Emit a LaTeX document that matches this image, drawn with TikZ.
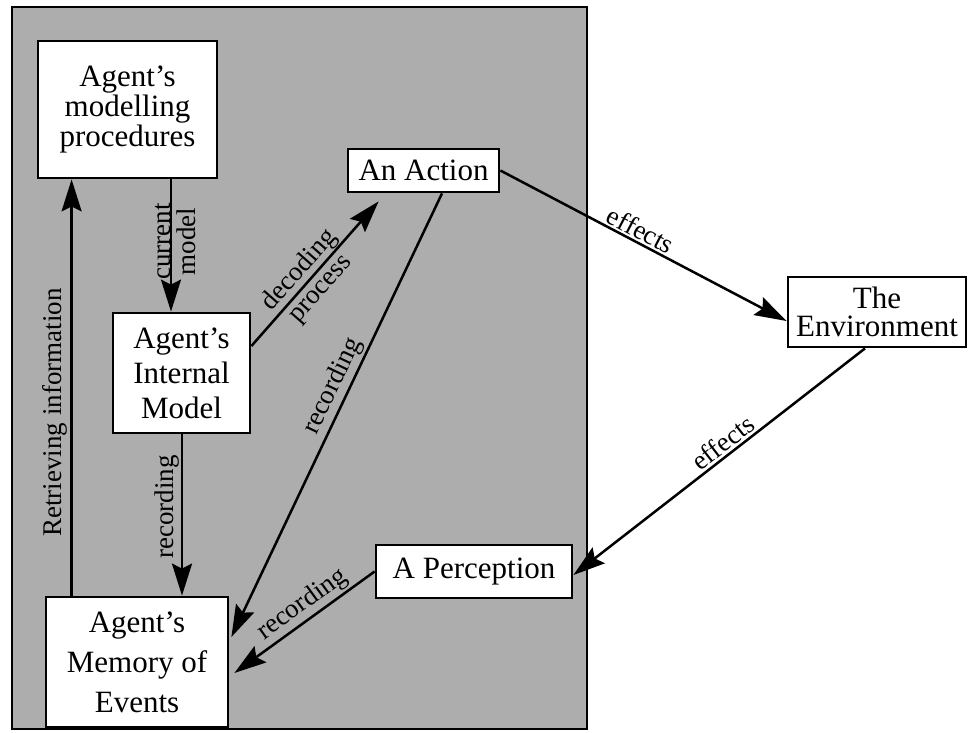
\documentclass[tikz,border=0pt]{standalone}
\usepackage{fontspec}
\setmainfont{Liberation Serif}
\usetikzlibrary{arrows.meta}
\begin{document}
\begin{tikzpicture}[x=1pt,y=-1pt,
  box/.style={draw, line width=2.8pt, fill=white, inner sep=0pt, align=center},
  conn/.style={line width=2.5pt, -{Stealth[length=32pt,width=20pt,inset=5pt]}},
  lbl/.style={font=\fontsize{27}{28}\selectfont, inner sep=2pt, align=center}]
\useasboundingbox (0,0) rectangle (969,732);
% the agent's side of the diagram
\draw[line width=2.8pt, fill=black!32] (12,7) rectangle (587,729);

\node[box, minimum width=179, minimum height=137, font=\fontsize{31}{30}\selectfont]
  (proc) at (127.5,109.5) {Agent's\\modelling\\procedures};
\node[box, minimum width=137, minimum height=120, font=\fontsize{31}{35}\selectfont]
  (int) at (181.5,373) {Agent's\\Internal\\Model};
\node[box, minimum width=182, minimum height=130, font=\fontsize{31}{40}\selectfont]
  (mem) at (137,662) {Agent's\\Memory of\\Events};
\node[box, minimum width=151, minimum height=43, font=\fontsize{31}{31}\selectfont]
  (act) at (423.5,170.5) {An Action};
\node[box, minimum width=196, minimum height=53, font=\fontsize{31}{31}\selectfont]
  (perc) at (474,571.5) {A Perception};
\node[box, minimum width=178, minimum height=70, font=\fontsize{31}{28}\selectfont]
  (env) at (877,312) {The\\Environment};

% connectors inside the agent
\draw[conn] ([xshift=27]mem.north west) -- ([xshift=35]proc.south west)
  node[lbl, pos=0.44, rotate=90, above, inner sep=3pt] {Retrieving information};
\draw[conn] ([xshift=43.5]proc.south) -- ([xshift=-10.5]int.north)
  node[lbl, pos=0.47, xshift=5pt, rotate=90, font=\fontsize{27}{25}\selectfont] {current\\model};
\draw[conn] ([xshift=0.5]int.south) -- ([xshift=45]mem.north)
  node[lbl, pos=0.45, rotate=90, above, inner sep=1pt] {recording};
\draw[conn] ([yshift=27]int.east) -- ([xshift=32,yshift=-8]act.south west)
  node[lbl, pos=0.46, sloped] {decoding\\process};
\draw[conn] ([xshift=18.5]act.south) -- ([xshift=2,yshift=25]mem.east)
  node[lbl, pos=0.45, sloped, above] {recording};
\draw[conn] (perc.west) -- ([xshift=5,yshift=-11]mem.east)
  node[lbl, pos=0.45, sloped, above] {recording};

% connectors through the environment
\draw[conn] (act.east) -- ([yshift=-9]env.west)
  node[lbl, pos=0.47, sloped, above] {effects};
\draw[conn] ([xshift=-12]env.south) -- ([yshift=-3.5]perc.east)
  node[lbl, pos=0.46, sloped, above] {effects};
\end{tikzpicture}
\end{document}
